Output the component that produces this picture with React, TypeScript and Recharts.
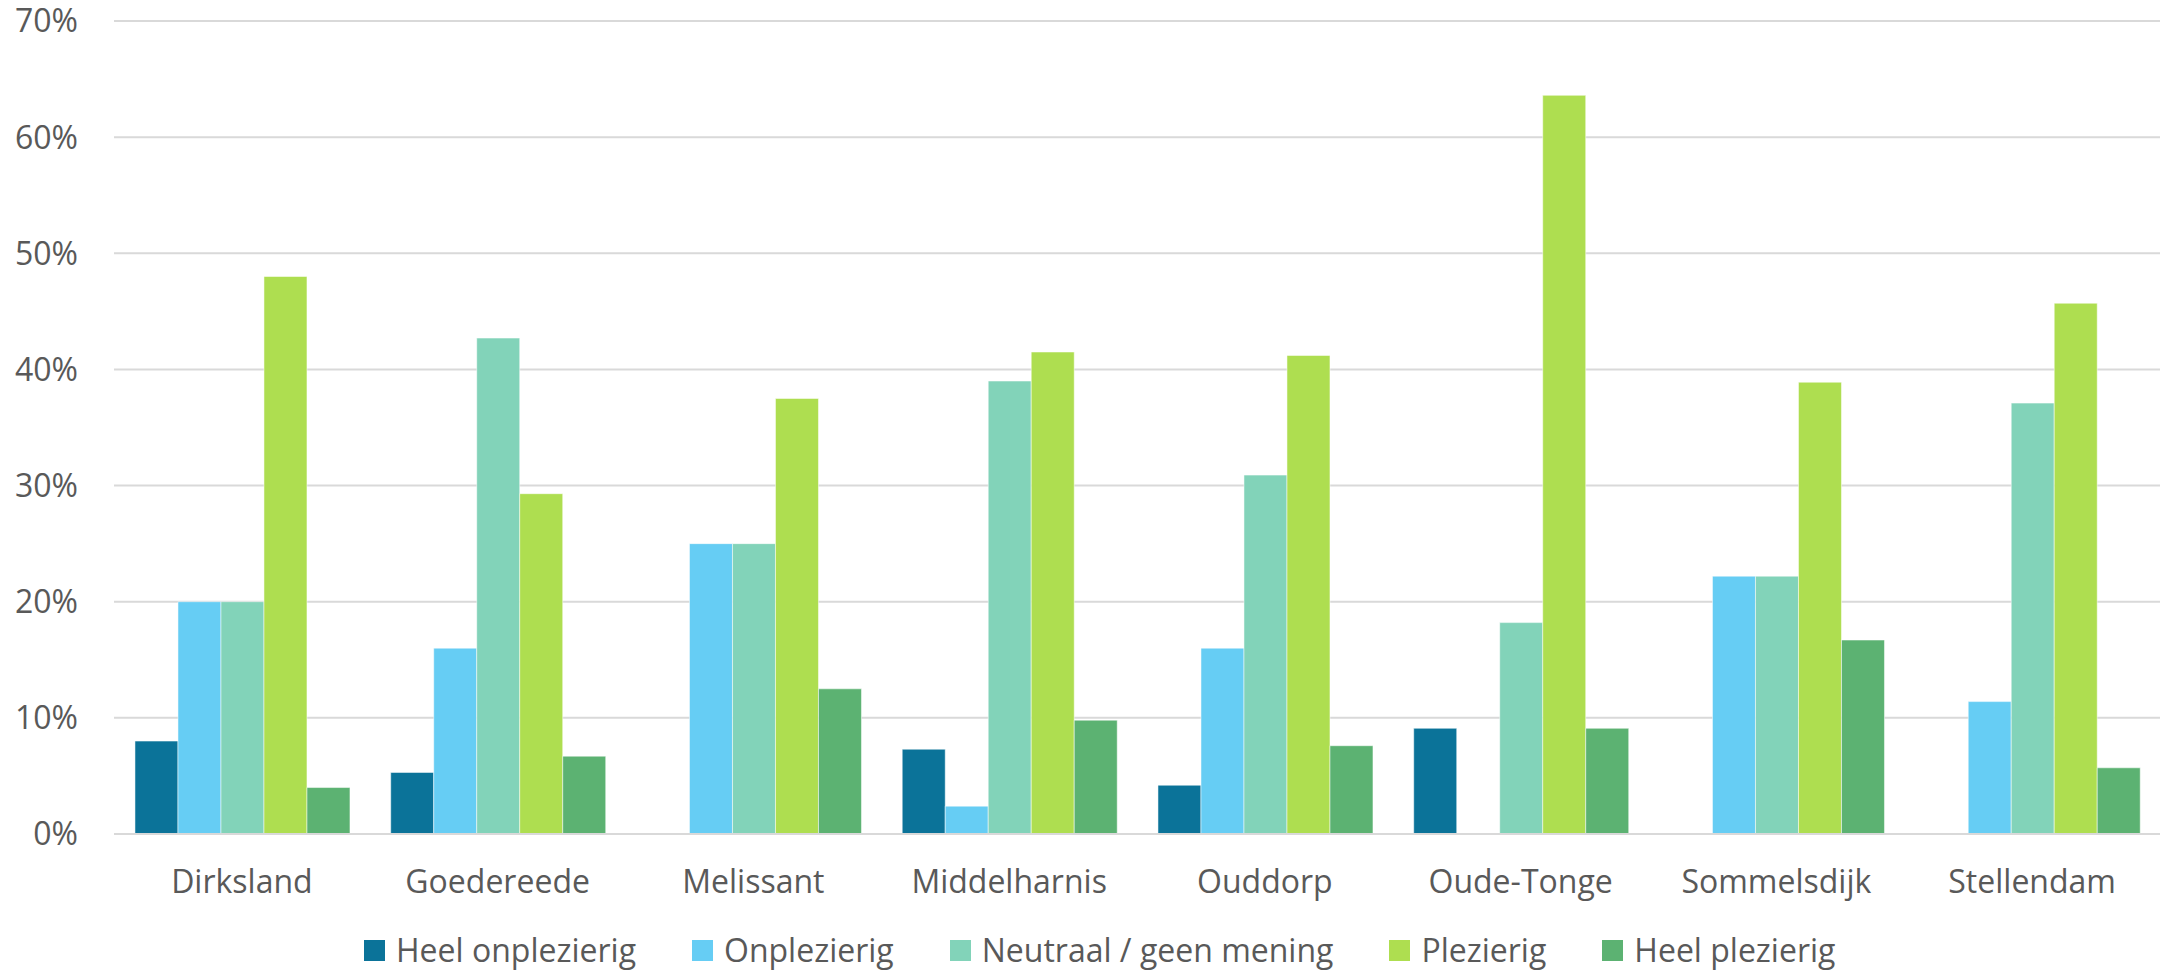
import { BarChart, Bar, XAxis, YAxis, CartesianGrid, Legend } from "recharts";

const places = [
  "Dirksland",
  "Goedereede",
  "Melissant",
  "Middelharnis",
  "Ouddorp",
  "Oude-Tonge",
  "Sommelsdijk",
  "Stellendam",
];

const heelOnplezierig = [8, 5.3, 0, 7.3, 4.2, 9.1, 0, 0];
const onplezierig = [20, 16, 25, 2.4, 16, 0, 22.2, 11.4];
const neutraal = [20, 42.7, 25, 39, 30.9, 18.2, 22.2, 37.1];
const plezierig = [48, 29.3, 37.5, 41.5, 41.2, 63.6, 38.9, 45.7];
const heelPlezierig = [4, 6.7, 12.5, 9.8, 7.6, 9.1, 16.7, 5.7];

const yTicks = [0, 10, 20, 30, 40, 50, 60, 70];

const series = [
  { key: "heelOnplezierig", name: "Heel onplezierig", color: "#0B7399" },
  { key: "onplezierig", name: "Onplezierig", color: "#66CDF4" },
  { key: "neutraal", name: "Neutraal / geen mening", color: "#82D3B9" },
  { key: "plezierig", name: "Plezierig", color: "#AEDE50" },
  { key: "heelPlezierig", name: "Heel plezierig", color: "#5CB272" },
];

const data = places.map((place, i) => ({
  place,
  heelOnplezierig: heelOnplezierig[i],
  onplezierig: onplezierig[i],
  neutraal: neutraal[i],
  plezierig: plezierig[i],
  heelPlezierig: heelPlezierig[i],
}));

const font = "'Open Sans', sans-serif";
const textColor = "#595959";

function LegendBox() {
  return (
    <div
      style={{
        display: "flex",
        alignItems: "center",
        height: 30,
        paddingLeft: 364,
        fontFamily: font,
        fontSize: 32,
        color: textColor,
        whiteSpace: "nowrap",
      }}
    >
      {series.map((s) => (
        <div key={s.key} style={{ display: "flex", alignItems: "center", marginRight: 56 }}>
          <span style={{ width: 21, height: 21, background: s.color, marginRight: 11, display: "inline-block" }} />
          <span style={{ lineHeight: "30px" }}>{s.name}</span>
        </div>
      ))}
    </div>
  );
}

export default function App() {
  return (
    <div style={{ position: "absolute", left: 0, top: 0, background: "#fff" }}>
      <BarChart
        width={2164}
        height={971}
        data={data}
        margin={{ top: 21, right: 4, left: 0, bottom: 6 }}
        barCategoryGap="8.2%"
        barGap={0}
      >
        <CartesianGrid vertical={false} stroke="#D9D9D9" strokeWidth={2} />
        <XAxis
          dataKey="place"
          axisLine={{ stroke: "#D9D9D9", strokeWidth: 2 }}
          tickLine={false}
          tickSize={0}
          tickMargin={36}
          height={101}
          interval={0}
          tick={{ fill: textColor, fontSize: 32, fontFamily: font }}
        />
        <YAxis
          domain={[0, 70]}
          ticks={yTicks}
          width={114}
          axisLine={false}
          tickLine={false}
          tickSize={0}
          tickMargin={36}
          tickFormatter={(v) => `${v}%`}
          tick={{ fill: textColor, fontSize: 32, fontFamily: font }}
        />
        <Legend verticalAlign="bottom" wrapperStyle={{ left: 0, width: 2164 }} content={() => <LegendBox />} />
        {series.map((s) => (
          <Bar
            key={s.key}
            dataKey={s.key}
            name={s.name}
            fill={s.color}
            stroke="#ffffff"
            strokeOpacity={0.5}
            strokeWidth={1}
            isAnimationActive={false}
          />
        ))}
      </BarChart>
    </div>
  );
}
